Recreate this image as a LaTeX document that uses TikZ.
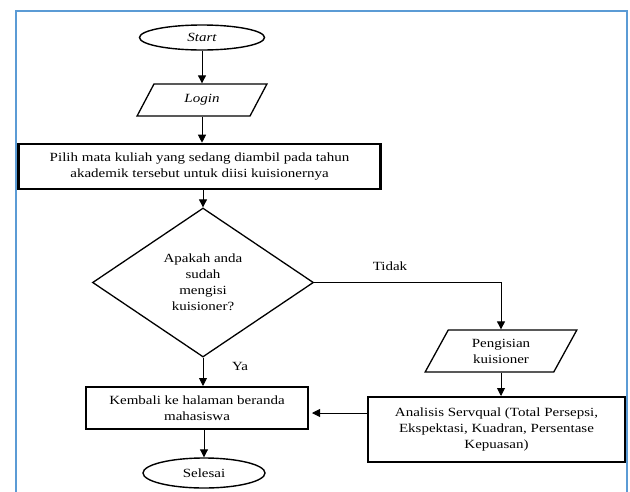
\documentclass[tikz,border=0pt]{standalone}
\usepackage{fontspec}
\setmainfont[FakeStretch=1.2]{Liberation Serif}
\usetikzlibrary{shapes.geometric,arrows.meta}
\definecolor{framebl}{HTML}{5B9BD5}
\begin{document}
\begin{tikzpicture}[x=1pt,y=-1pt,
  every node/.style={font=\fontsize{12.5}{16}\selectfont, inner sep=0pt, align=center},
  term/.style={ellipse, draw, line width=1.4pt},
  io/.style={trapezium, draw, line width=1.3pt, trapezium stretches=true},
  proc/.style={rectangle, draw, line width=2pt},
  decis/.style={diamond, draw, line width=1.3pt, aspect=1.48},
  arr/.style={line width=0.9pt, -{Triangle[length=8pt,width=8pt]}},
  lbl/.style={font=\fontsize{12.5}{16}\selectfont}
]
\useasboundingbox (0,0) rectangle (630,491);
% frame
\draw[framebl, line width=2pt] (16,495) -- (16,11) -- (627,11) -- (627,495);

\node[term, minimum width=125pt, minimum height=25pt] (start) at (202,37.5) {\itshape Start};
\node[io, trapezium left angle=60.6, trapezium right angle=119.4, minimum width=130pt, minimum height=32pt] (login) at (202,100) {\itshape Login};
\node[proc, line width=2.6pt, minimum width=362pt, minimum height=45pt] (pilih) at (199.5,166.5)
  {Pilih mata kuliah yang sedang diambil pada tahun\\akademik tersebut untuk diisi kuisionernya};
\node[decis, minimum width=221pt, minimum height=149pt] (dec) at (203,282.5)
  {Apakah anda\\sudah\\mengisi\\kuisioner?};
\node[io, trapezium left angle=62.4, trapezium right angle=117.6, minimum width=152pt, minimum height=42pt] (isi) at (501,351)
  {Pengisian\\kuisioner};
\node[proc, minimum width=257pt, minimum height=65pt] (anal) at (496.5,429.5)
  {Analisis Servqual (Total Persepsi,\\Ekspektasi, Kuadran, Persentase\\Kepuasan)};
\node[proc, minimum width=222pt, minimum height=42pt] (kemb) at (197,408)
  {Kembali ke halaman beranda\\mahasiswa};
\node[term, minimum width=122pt, minimum height=30pt] (end) at (204,473) {Selesai};

\node[lbl] (tidak) at (390,266) {Tidak};
\node[lbl] (ya) at (240,366) {Ya};

\draw[arr] (start.south) -- (start.south |- login.north);
\draw[arr] (login.south) -- (login.south |- pilih.north);
\draw[arr] (dec.north |- pilih.south) -- (dec.north);
\draw[line width=0.9pt, -{Triangle[length=8pt,width=8pt]}] (dec.east) -| (isi.north);
\draw[arr] (isi.south) -- (isi.south |- anal.north);
\draw[arr] (dec.south) -- (dec.south |- kemb.north);
\draw[arr, shorten >=3pt] (anal.west |- 0,413) -- (kemb.east |- 0,413);
\draw[arr] (end.north |- kemb.south) -- (end.north);
\end{tikzpicture}
\end{document}
